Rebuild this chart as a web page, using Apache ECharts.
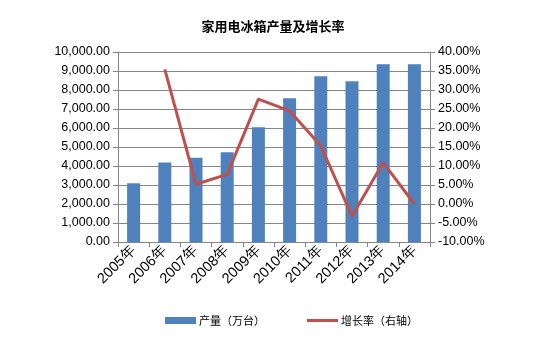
<!DOCTYPE html>
<html>
<head>
<meta charset="utf-8">
<script src="https://cdn.jsdelivr.net/npm/echarts@6/dist/echarts.min.js"></script>
<style>
  html, body { margin: 0; padding: 0; background: #fff; }
  #chart01 { width: 546px; height: 351px; }
</style>
</head>
<body>
<div id="chart01"></div>
<script>
// 数据
var years = ['2005年', '2006年', '2007年', '2008年', '2009年', '2010年', '2011年', '2012年', '2013年', '2014年'];
var output = [3090, 4190, 4430, 4730, 6040, 7570, 8720, 8460, 9350, 9350];
var growth = [null, 35.4, 5.2, 7.8, 27.6, 24.5, 15.3, -3.2, 10.9, 0.0];

function fmtNum(v) {
  return v.toFixed(2).replace(/\B(?=(\d{3})+(?!\d))/g, ',');
}

var chart01 = echarts.init(document.getElementById('chart01'));
var option = {
  animation: false,
  title: {
    text: '家用电冰箱产量及增长率',
    left: 'center',
    top: 15,
    textStyle: {
      fontFamily: 'Noto Sans CJK SC',
      fontSize: 13,
      fontWeight: 'bold',
      color: '#000'
    }
  },
  //图例
  legend: [
    {
      data: [{ name: '产量（万台）', icon: 'rect' }],
      left: 160,
      top: 310,
      itemWidth: 31,
      itemHeight: 7,
      itemGap: 4,
      textStyle: { fontFamily: 'Noto Sans CJK SC', fontSize: 11, color: '#000', padding: [0, 0, 0, -2] }
    },
    {
      data: [{ name: '增长率（右轴）', icon: 'rect' }],
      left: 302,
      top: 310,
      itemWidth: 31,
      itemHeight: 3,
      textStyle: { fontFamily: 'Noto Sans CJK SC', fontSize: 11, color: '#000', padding: [0, 0, 0, -2] }
    }
  ],
  grid: {
    left: 118,
    right: 116,
    top: 52,
    bottom: 109
  },
  // x轴
  xAxis: {
    type: 'category',
    data: years,
    axisLine: { lineStyle: { color: '#868686' } },
    axisTick: { show: true, length: 5, lineStyle: { color: '#868686' } },
    axisLabel: {
      interval: 0,
      rotate: 45,
      margin: 6,
      fontFamily: 'Liberation Sans',
      fontSize: 14.5,
      color: '#000'
    }
  },
  // y轴
  yAxis: [
    {
      type: 'value',
      min: 0,
      max: 10000,
      interval: 1000,
      axisLine: { show: true, lineStyle: { color: '#868686' } },
      axisTick: { show: true, length: 5, lineStyle: { color: '#868686' } },
      splitLine: { lineStyle: { color: '#868686' } },
      axisLabel: {
        margin: 8,
        fontFamily: 'Liberation Sans',
        fontSize: 12.5,
        color: '#000',
        formatter: fmtNum
      }
    },
    {
      type: 'value',
      min: -10,
      max: 40,
      interval: 5,
      position: 'right',
      axisLine: { show: true, lineStyle: { color: '#868686' } },
      axisTick: { show: true, length: 5, lineStyle: { color: '#868686' } },
      splitLine: { show: false },
      axisLabel: {
        margin: 8,
        fontFamily: 'Liberation Sans',
        fontSize: 12.5,
        color: '#000',
        formatter: function (v) { return v.toFixed(2) + '%'; }
      }
    }
  ],
  // 数据
  series: [
    {
      name: '产量（万台）',
      type: 'bar',
      data: output,
      barWidth: 13,
      itemStyle: { color: '#4F81BD' }
    },
    {
      name: '增长率（右轴）',
      type: 'line',
      yAxisIndex: 1,
      data: growth,
      symbol: 'none',
      lineStyle: { color: '#C0504D', width: 3 },
      itemStyle: { color: '#C0504D' }
    }
  ]
};
chart01.setOption(option);
</script>
</body>
</html>
